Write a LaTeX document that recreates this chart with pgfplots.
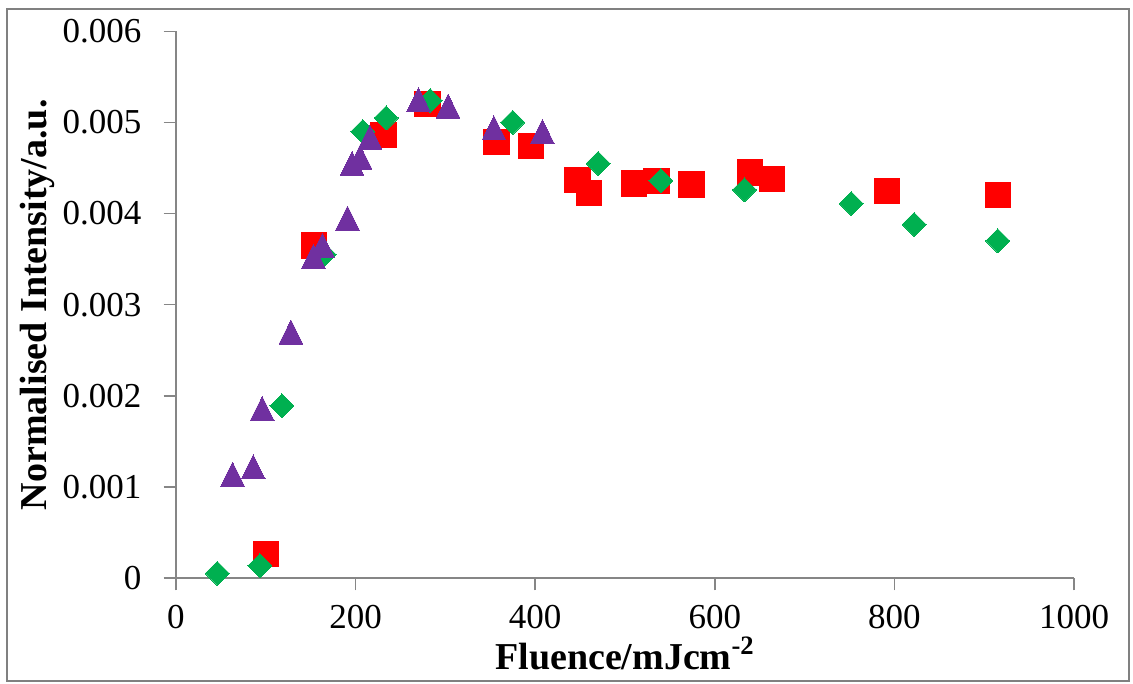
\documentclass[border=0pt]{standalone}
\usepackage{fontspec}
\setmainfont{Liberation Serif}
\usepackage{pgfplots}
\pgfplotsset{compat=1.18}
\definecolor{redm}{RGB}{255,0,0}
\definecolor{greenm}{RGB}{0,176,80}
\definecolor{purplem}{RGB}{112,48,160}
\definecolor{axgray}{RGB}{134,134,134}
\definecolor{framegray}{RGB}{128,128,128}
\begin{document}
\begin{tikzpicture}
\begin{axis}[name=ax, scale only axis, width=449bp, height=273.3bp,
  xmin=0, xmax=1000, ymin=0, ymax=0.006,
  axis x line*=bottom, axis y line*=left,
  axis line style={axgray, line width=0.75bp, -},
  tick align=outside, major tick length=6.25bp,
  tick style={axgray, line width=0.75bp},
  xtick={0,200,400,600,800,1000},
  xticklabels={0,200,400,600,800,1000},
  ytick={0,0.001,0.002,0.003,0.004,0.005,0.006},
  yticklabels={0,0.001,0.002,0.003,0.004,0.005,0.006},
  scaled y ticks=false, scaled x ticks=false,
  ticklabel style={font=\fontsize{17.5bp}{21bp}\selectfont},
  xticklabel style={yshift=-4bp},
  yticklabel style={xshift=-7.5bp},
  clip=false,
  xlabel={Fluence/mJcm\textsuperscript{-2}},
  ylabel={Normalised Intensity/a.u.},
  xlabel style={font=\fontsize{19bp}{23bp}\selectfont\bfseries, at={(axis description cs:0.5,-0.1683)}, anchor=base},
  ylabel style={font=\fontsize{19bp}{23bp}\selectfont\bfseries, at={(axis description cs:-0.1437,0.5)}, anchor=base},
]
\addplot[only marks, mark=square*, mark size=6.3bp, mark options={fill=redm, draw=redm, line width=0pt}] coordinates {
(100,0.00026) (154,0.00365) (231,0.00486) (280,0.00520) (357,0.00479)
(395,0.00474) (447,0.00437) (460,0.00423) (510,0.00433) (535,0.00436)
(574,0.00432) (639,0.00445) (664,0.00438) (792,0.00425) (915,0.00420)
};
\addplot[only marks, mark=square*, mark size=4.24bp, mark options={rotate=45, fill=greenm, draw=greenm, line width=0pt}] coordinates {
(46,0.00005) (93.5,0.000135) (118,0.00189) (165,0.00355) (208,0.00490)
(234,0.00505) (283,0.00524) (375,0.00500) (470,0.00455) (540,0.00436)
(633,0.00426) (752,0.00411) (822,0.00388) (915,0.00370)
};
\addplot[only marks, mark=triangle*, mark size=8bp, mark options={yshift=-2bp, xscale=0.855, fill=purplem, draw=purplem, line width=0pt}] coordinates {
(63,0.00114) (86,0.00122) (96,0.00186) (128,0.00270) (153,0.00353)
(163,0.00365) (191,0.00395) (196,0.00455) (205,0.00462) (216,0.00484)
(270,0.00525) (303,0.00518) (354,0.00494) (408,0.00490)
};
\end{axis}
\draw[framegray, line width=1.35bp] ([xshift=-84.5bp,yshift=-51.5bp]ax.south west) rectangle ([xshift=27.5bp,yshift=11.2bp]ax.north east);
\path ([xshift=-88bp,yshift=-53bp]ax.south west) rectangle ([xshift=29.5bp,yshift=15.7bp]ax.north east);
\end{tikzpicture}
\end{document}
